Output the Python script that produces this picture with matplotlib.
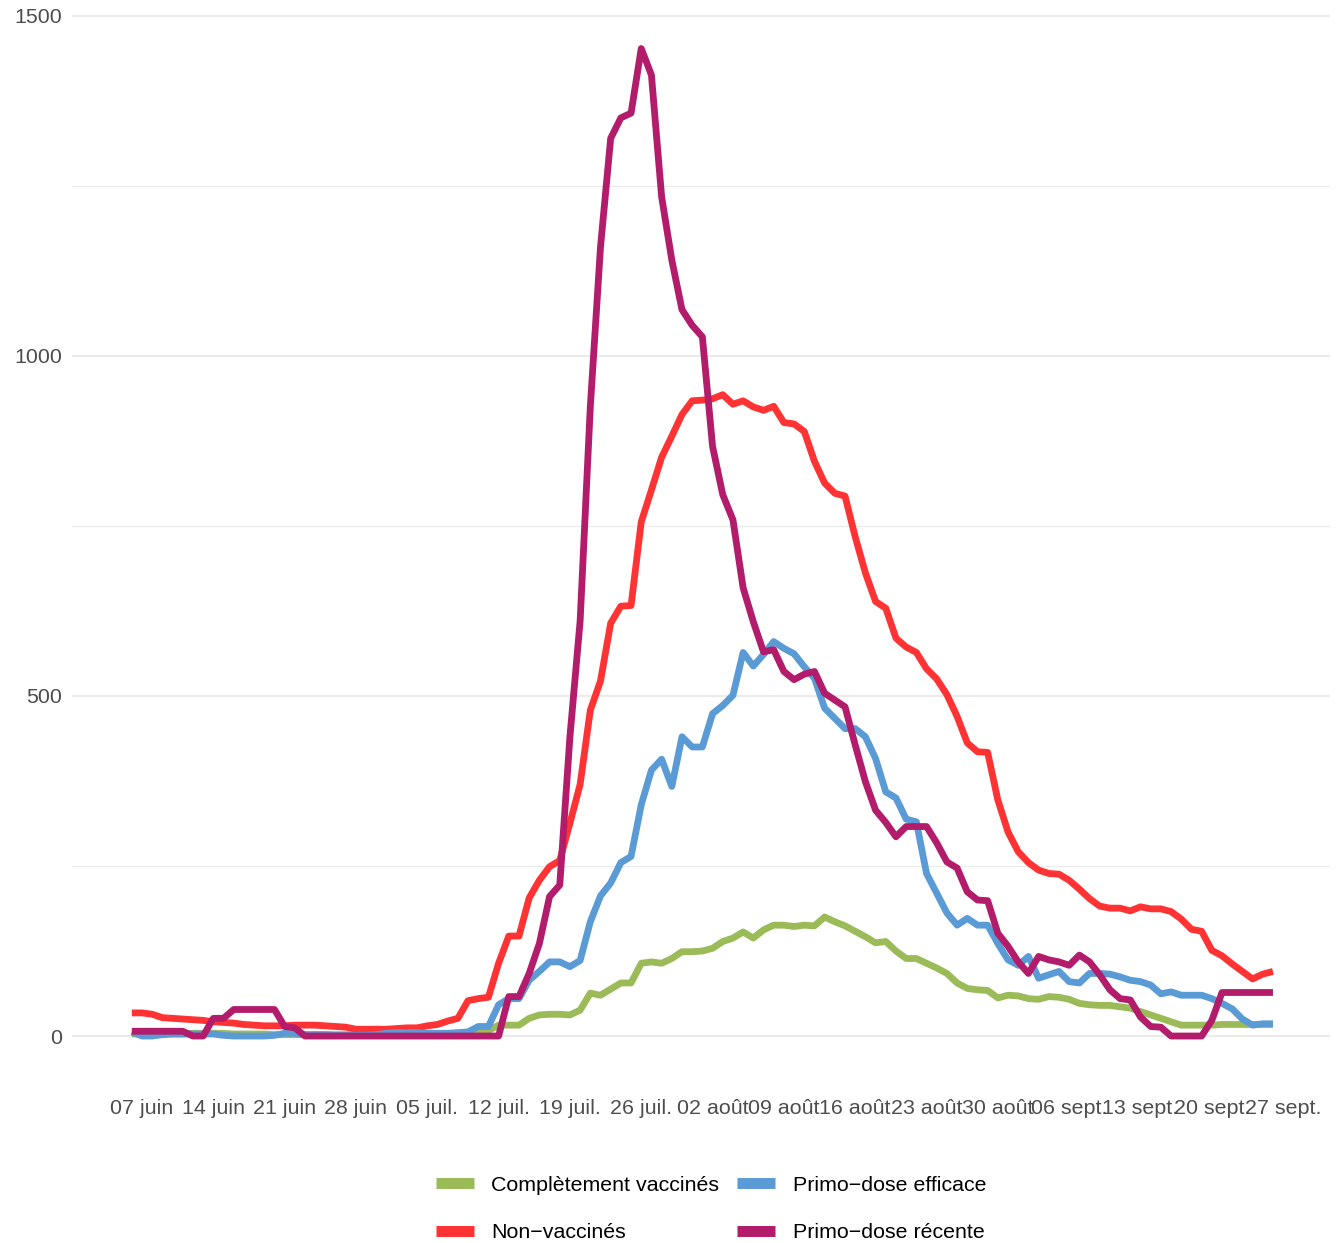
import matplotlib
matplotlib.use("Agg")
import matplotlib.pyplot as plt
from matplotlib.lines import Line2D
from matplotlib.ticker import MultipleLocator
import numpy as np
import pandas as pd

plt.rcParams["font.family"] = ["Liberation Sans", "DejaVu Sans"]

# daily values, 06 juin -> 26 sept
dates = pd.date_range("2021-06-06", periods=113, freq="D")

complet = [3, 3, 3, 3, 3, 3, 4, 4, 4, 4, 3, 3, 3, 3, 2, 2, 2, 2, 2, 2,
           2, 2, 2, 2, 2, 2, 2, 2, 3, 3, 3, 3, 4, 4, 5, 8,
           16, 16, 16, 26, 31, 32, 32, 31, 38, 63, 60, 69, 78, 78,
           107, 109, 107, 114, 124, 124, 125, 129, 139, 144, 153, 144, 156, 163, 163, 161,
           163, 162, 175, 168, 162, 154, 146, 137, 139, 125, 114, 114, 107, 100, 92, 78,
           70, 68, 67, 56, 60, 59, 55, 54, 58, 57, 54, 48, 46, 45, 45, 43, 41, 36,
           31, 26, 21, 16, 16, 16, 16, 17, 17, 17, 17, 17, 17]

non_vaccines = [34, 34, 32, 27, 26, 25, 24, 23, 21, 20, 19, 17, 16, 15, 15, 15, 16, 16, 16, 15,
                14, 13, 10, 10, 10, 10, 11, 12, 12, 15, 17, 22, 26, 52, 55, 57,
                107, 147, 147, 203, 229, 249, 258, 313, 370, 479, 522, 607, 632, 633,
                756, 803, 851, 882, 914, 934, 935, 937, 943, 929, 934, 925, 920, 926, 902, 900,
                889, 845, 813, 798, 794, 734, 681, 639, 629, 585, 572, 564, 540, 525, 502, 470,
                431, 418, 417, 347, 300, 271, 255, 244, 239, 238, 229, 216, 202, 191, 188, 188,
                184, 190, 187, 187, 183, 172, 157, 154, 126, 118, 106, 95, 84, 91, 95]

primo_efficace = [6, 0, 0, 2, 3, 3, 3, 3, 3, 1, 0, 0, 0, 0, 1, 4, 4, 2, 2, 2,
                  1, 1, 1, 1, 2, 4, 5, 5, 5, 4, 4, 4, 5, 6, 14, 14,
                  46, 55, 55, 82, 95, 109, 109, 102, 111, 168, 206, 225, 255, 264,
                  340, 391, 407, 367, 440, 425, 425, 474, 486, 501, 564, 544, 561, 580, 570, 562,
                  543, 526, 482, 467, 452, 452, 440, 408, 359, 350, 319, 315, 239, 210, 181, 163,
                  173, 163, 163, 136, 112, 104, 117, 85, 90, 95, 80, 78, 92, 92, 91, 87,
                  82, 80, 75, 62, 65, 60, 60, 60, 55, 48, 40, 25, 16, 18, 18]

primo_recente = [7, 7, 7, 7, 7, 7, 0, 0, 26, 26, 39, 39, 39, 39, 39, 14, 12,
                 0, 0, 0, 0, 0, 0, 0, 0, 0, 0, 0, 0, 0, 0, 0, 0, 0, 0, 0, 0,
                 58, 58, 92, 136, 205, 222, 440, 610, 925, 1160, 1320, 1350, 1357,
                 1452, 1413, 1234, 1141, 1068, 1045, 1028, 867, 796, 759, 659, 609, 565, 568,
                 536, 524, 532, 536, 504, 494, 484, 428, 374, 332, 314, 293, 308, 308, 308,
                 284, 256, 247, 212, 200, 199, 151, 132, 109, 92, 117, 112, 109, 104, 119,
                 109, 90, 68, 55, 53, 28, 14, 13, 0, 0, 0, 0, 23, 64,
                 64, 64, 64, 64, 64]

series_names = ["Complètement vaccinés", "Non\u2212vaccinés",
                "Primo\u2212dose efficace", "Primo\u2212dose récente"]
series_colors = ["#9BBB59", "#FF3333", "#5B9BD5", "#B31B6B"]

tick_dates = pd.date_range("2021-06-07", periods=17, freq="7D")
tick_labels = ["07 juin", "14 juin", "21 juin", "28 juin", "05 juil.", "12 juil.",
               "19 juil.", "26 juil.", "02 août", "09 août", "16 août", "23 août",
               "30 août", "06 sept.", "13 sept.", "20 sept.", "27 sept."]

W, H = 1339, 1243
fig = plt.figure(figsize=(W / 100, H / 100), dpi=100)
ax = fig.add_axes([72 / W, (H - 1085.4) / H, (1330 - 72) / W, (1085.4 - 5) / H])

for vals, name, col in zip([complet, non_vaccines, primo_efficace, primo_recente],
                           series_names, series_colors):
    ax.plot(dates, vals, color=col, lw=4.9, solid_joinstyle="round",
            solid_capstyle="butt", label=name, zorder=3)

day = pd.Timedelta(days=1)
ax.set_xlim(dates[0] - 5.87 * day, dates[-1] + 5.6 * day)
ax.set_ylim(-72.6, 1516)

ax.set_yticks([0, 500, 1000, 1500])
ax.yaxis.set_minor_locator(MultipleLocator(250))
ax.set_xticks(tick_dates)
ax.set_xticklabels(tick_labels)

ax.grid(axis="y", which="major", color="#EBEBEB", lw=1.6, zorder=0)
ax.grid(axis="y", which="minor", color="#EBEBEB", lw=0.9, zorder=0)
ax.grid(axis="x", visible=False)
for s in ax.spines.values():
    s.set_visible(False)
ax.tick_params(axis="both", which="both", length=0, labelsize=15.4, labelcolor="#4D4D4D")
ax.tick_params(axis="x", pad=10)
ax.tick_params(axis="y", pad=7.2)

handles = [Line2D([], [], color=c, lw=7.9, solid_capstyle="butt") for c in series_colors]
fig.legend(handles, series_names, ncol=2, loc="center",
           bbox_to_anchor=(711 / W, (H - 1209) / H), frameon=False,
           fontsize=15.4, handlelength=1.78, handletextpad=0.8, columnspacing=0.85,
           labelspacing=1.35, borderpad=0)

fig.savefig("out.png", dpi=100)
